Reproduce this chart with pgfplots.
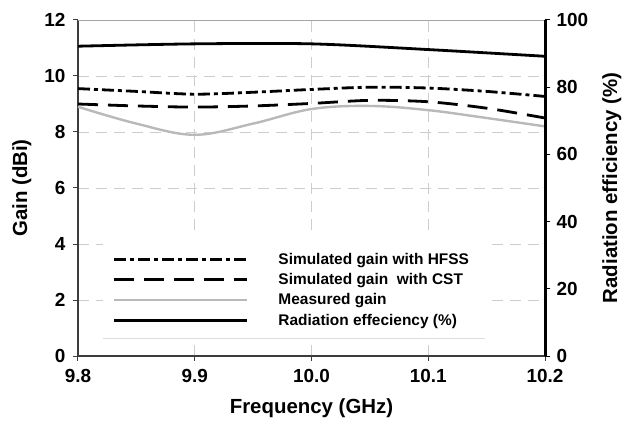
\documentclass[border=0pt]{standalone}
\usepackage{fontspec}
\setmainfont{Liberation Sans}
\usepackage{pgfplots}
\pgfplotsset{compat=1.18}
\definecolor{gridgray}{RGB}{205,205,205}
\definecolor{measgray}{RGB}{185,185,185}
\definecolor{axgray}{RGB}{60,60,60}
\begin{document}
\begin{tikzpicture}
\begin{axis}[
  scale only axis, width=467bp, height=336bp,
  xmin=9.8, xmax=10.2, ymin=0, ymax=12,
  xtick={9.8,9.9,10.0,10.1,10.2},
  xticklabels={9.8,9.9,10.0,10.1,10.2},
  ytick={0,2,...,12},
  axis y line*=left, axis x line*=bottom,
  axis line style={axgray, line width=1.2bp},
  tick align=outside, tick style={axgray, line width=1bp}, major tick length=5bp,
  grid=major, major grid style={gridgray, dash pattern=on 11bp off 7bp, line width=0.8bp},
  ticklabel style={font=\fontsize{19}{19}\selectfont\bfseries},
  xticklabel style={yshift=-5bp},
  yticklabel style={xshift=-4bp},
  /pgf/number format/assume math mode=true,
  xlabel={Frequency (GHz)}, ylabel={Gain (dBi)},
  label style={font=\fontsize{20.5}{20.5}\selectfont\bfseries},
  xlabel style={at={(axis description cs:0.5,-0.155)}, anchor=center},
  ylabel style={at={(axis description cs:-0.12,0.5)}, anchor=center},
  legend style={at={(0.067,0.318)}, anchor=north west, draw=none, fill=none,
    font=\fontsize{15.5}{16}\selectfont\bfseries, row sep=3.5bp,
    /tikz/every odd column/.append style={column sep=28bp}},
  legend cell align=left,
  legend image code/.code={\draw[#1] (0bp,0bp) -- (133bp,0bp);},
  clip=false,
]
\fill[white] (rel axis cs:0.0535,0.0536) rectangle (rel axis cs:0.8715,0.354);
\draw[gridgray!70, line width=0.8bp] (rel axis cs:0.0535,0.0536) -- (rel axis cs:0.8715,0.0536);
\draw[gridgray!80!black, line width=0.8bp] (rel axis cs:0,1) -- (rel axis cs:1,1);
\addplot[black, line width=2.8bp, dash pattern=on 12bp off 4bp on 4bp off 4bp, smooth, tension=0.5] coordinates {
 (9.8,9.55) (9.85,9.45) (9.9,9.35) (9.95,9.42) (10.0,9.52) (10.05,9.6) (10.1,9.57) (10.15,9.45) (10.2,9.27)};
\addlegendentry{Simulated gain with HFSS}
\addplot[black, line width=2.8bp, dash pattern=on 20bp off 10bp, smooth, tension=0.5] coordinates {
 (9.8,9.0) (9.85,8.93) (9.9,8.89) (9.95,8.93) (10.0,9.02) (10.05,9.13) (10.1,9.08) (10.15,8.85) (10.2,8.5)};
\addlegendentry{Simulated gain\ \ with CST}
\addplot[measgray, line width=2.4bp, smooth, tension=0.6] coordinates {
 (9.8,8.9) (9.85,8.3) (9.9,7.9) (9.95,8.3) (10.0,8.82) (10.05,8.93) (10.1,8.78) (10.15,8.5) (10.2,8.2)};
\addlegendentry{Measured gain}
\addlegendimage{black, line width=3bp}
\addlegendentry{Radiation effeciency (\%)}
\end{axis}
\begin{axis}[
  scale only axis, width=467bp, height=336bp,
  xmin=9.8, xmax=10.2, ymin=0, ymax=100,
  axis x line=none, axis y line*=right,
  ytick={0,20,...,100},
  axis line style={black, line width=3bp},
  tick align=outside, tick style={black, line width=1bp}, major tick length=5bp,
  ticklabel style={font=\fontsize{19}{19}\selectfont\bfseries},
  yticklabel style={xshift=3bp},
  /pgf/number format/assume math mode=true,
  ylabel={Radiation efficiency (\%)},
  label style={font=\fontsize{20.5}{20.5}\selectfont\bfseries},
  ylabel style={at={(axis description cs:1.143,0.5)}, anchor=center},
]
\addplot[black, line width=2.8bp, smooth, tension=0.5] coordinates {
 (9.8,92.2) (9.9,92.9) (10.0,92.9) (10.1,91.2) (10.2,89.2)};
\end{axis}
\path[use as bounding box] (-78bp,-67bp) rectangle (554bp,356bp);
\end{tikzpicture}
\end{document}
